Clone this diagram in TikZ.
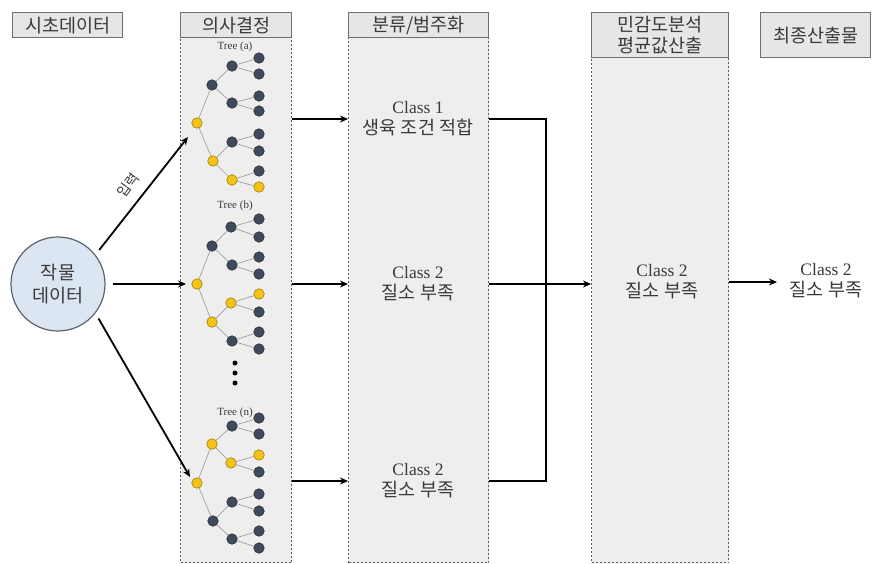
\documentclass[tikz,border=0pt]{standalone}
\usepackage{fontspec}
\setmainfont{Liberation Serif}
\newfontfamily\kr{Noto Sans CJK KR}
\usetikzlibrary{arrows.meta,calc}
\definecolor{hdrfill}{HTML}{E6E6E6}
\definecolor{hdrline}{HTML}{6E6E6E}
\definecolor{colfill}{HTML}{EEEEEE}
\definecolor{colline}{HTML}{5A5A5A}
\definecolor{txt}{HTML}{3A3A3A}
\definecolor{darkn}{HTML}{3F4A5A}
\definecolor{darknb}{HTML}{29313C}
\definecolor{yeln}{HTML}{F2C318}
\definecolor{yelnb}{HTML}{A07F00}
\definecolor{cropfill}{HTML}{DCE6F2}
\definecolor{cropline}{HTML}{5C6470}
\newcommand\tn[4]{\node[#4] (#1) at (#2,#3) {};}
\newcommand\krc{\kr\fontsize{18.5}{21}\selectfont}
\begin{document}
\begin{tikzpicture}[x=1pt,y=-1pt,
  hdr/.style={draw=hdrline, fill=hdrfill, line width=1.4pt, inner sep=0pt, anchor=north west,
    font=\kr\fontsize{18.5}{21}\selectfont, text=txt, align=center},
  colbox/.style={draw=colline, fill=colfill, line width=1pt, dash pattern=on 2pt off 2pt,
    inner sep=0pt, anchor=north west},
  cls/.style={align=center, text=txt, font=\fontsize{17.5}{21}\selectfont},
  tlab/.style={text=txt, font=\fontsize{11}{13}\selectfont},
  dn/.style={circle, minimum size=10.5pt, inner sep=0pt, fill=darkn, draw=darknb, line width=0.6pt},
  yn/.style={circle, minimum size=10.5pt, inner sep=0pt, fill=yeln, draw=yelnb, line width=0.6pt},
  tedge/.style={draw=gray!75, line width=0.7pt},
  arr/.style={draw=black, line width=1.8pt, -{Stealth[length=8pt,width=7pt]}},
  ln/.style={draw=black, line width=1.8pt, line join=miter}
]
\useasboundingbox (0,0) rectangle (888,563);
\fill[white] (0,0) rectangle (888,563);

% columns
\node[colbox, minimum width=111pt, minimum height=525pt] (colA) at (180,37) {};
\node[colbox, minimum width=140pt, minimum height=525pt] (colB) at (348,37) {};
\node[colbox, minimum width=137pt, minimum height=505pt] (colC) at (591,57) {};

% headers
\node[hdr, minimum width=110pt, minimum height=25pt] (h0) at (12,12) {시초데이터};
\node[hdr, minimum width=111pt, minimum height=25pt] (hA) at (180,12) {의사결정};
\node[hdr, minimum width=140pt, minimum height=25pt] (hB) at (348,12) {분류/범주화};
\node[hdr, minimum width=137pt, minimum height=45pt] (hC) at (591,12) {민감도분석\\평균값산출};
\node[hdr, minimum width=110pt, minimum height=45pt] (hD) at (760,12) {최종산출물};

% crop data
\node[circle, minimum size=94pt, inner sep=0pt, draw=cropline, fill=cropfill, line width=1.2pt,
  align=center, text=txt, font=\kr\fontsize{18.5}{23}\selectfont] (crop) at (58,284) {작물\\데이터};

% tree labels
\node[tlab] (ta) at (235,47) {Tree (a)};
\node[tlab] (tb) at (235,206) {Tree (b)};
\node[tlab] (tnl) at (235,413) {Tree (n)};
\node[circle, fill=black, inner sep=0pt, minimum size=5pt] (d1) at (235,363) {};
\node[circle, fill=black, inner sep=0pt, minimum size=5pt] (d2) at (235,373) {};
\node[circle, fill=black, inner sep=0pt, minimum size=5pt] (d3) at (235,383) {};

% Tree (a)
\tn{a-r}{197}{123}{yn}
\tn{a-1}{212}{85}{dn}
\tn{a-2}{213}{161}{yn}
\tn{a-11}{232}{66}{dn}
\tn{a-12}{232}{103}{dn}
\tn{a-21}{232}{142}{dn}
\tn{a-22}{232}{180}{yn}
\tn{a-111}{259}{58}{dn}
\tn{a-112}{259}{74}{dn}
\tn{a-121}{259}{96}{dn}
\tn{a-122}{259}{111}{dn}
\tn{a-211}{259}{134}{dn}
\tn{a-212}{259}{151}{dn}
\tn{a-221}{259}{171}{dn}
\tn{a-222}{259}{187}{yn}
% Tree (b)
\tn{b-r}{197}{284}{yn}
\tn{b-1}{212}{246}{dn}
\tn{b-2}{212}{322}{yn}
\tn{b-11}{231}{227}{dn}
\tn{b-12}{232}{265}{dn}
\tn{b-21}{231}{303}{yn}
\tn{b-22}{232}{341}{dn}
\tn{b-111}{259}{219}{dn}
\tn{b-112}{259}{237}{dn}
\tn{b-121}{259}{257}{dn}
\tn{b-122}{259}{274}{dn}
\tn{b-211}{259}{294}{yn}
\tn{b-212}{259}{312}{dn}
\tn{b-221}{259}{332}{dn}
\tn{b-222}{259}{349}{dn}
% Tree (n)
\tn{n-r}{197}{483}{yn}
\tn{n-1}{212}{444}{yn}
\tn{n-2}{213}{521}{dn}
\tn{n-11}{232}{426}{dn}
\tn{n-12}{231}{463}{yn}
\tn{n-21}{232}{502}{dn}
\tn{n-22}{232}{539}{dn}
\tn{n-111}{259}{418}{dn}
\tn{n-112}{259}{434}{dn}
\tn{n-121}{259}{455}{yn}
\tn{n-122}{259}{472}{dn}
\tn{n-211}{259}{494}{dn}
\tn{n-212}{259}{511}{dn}
\tn{n-221}{259}{531}{dn}
\tn{n-222}{259}{548}{dn}

\foreach \p in {a,b,n}{
  \foreach \u/\v in {r/1,r/2,1/11,1/12,2/21,2/22,11/111,11/112,12/121,12/122,21/211,21/212,22/221,22/222}
    \draw[tedge] (\p-\u) -- (\p-\v);
}

% class texts
\node[cls] (c1) at (418,119) {Class 1\\{\krc 생육 조건 적합}};
\node[cls] (c2) at (418,284) {Class 2\\{\krc 질소 부족}};
\node[cls] (c3) at (418,481) {Class 2\\{\krc 질소 부족}};
\node[cls] (c4) at (662,282) {Class 2\\{\krc 질소 부족}};
\node[cls] (fin) at (826,281) {Class 2\\{\krc 질소 부족}};

% input arrows
\coordinate (ia) at (188,137);
\coordinate (ib) at (186,284);
\coordinate (in) at (190,477);
\draw[arr, shorten <=6pt] (crop.38) -- (ia);
\draw[arr, shorten <=7pt] (crop.east) -- (ib);
\draw[arr, shorten <=6pt] (crop.-38) -- (in);
\node[font=\kr\fontsize{14}{16}\selectfont, text=txt, rotate=53, inner sep=0pt] (lbl) at (128,185) {입력};

% tree -> class arrows
\draw[arr] (colA.east |- c1) -- (colB.west |- c1);
\draw[arr] (colA.east |- c2) -- (colB.west |- c2);
\draw[arr] (colA.east |- c3) -- (colB.west |- c3);

% merge lines
\coordinate (j1) at (546,119);
\coordinate (j3) at (546,481);
\draw[ln] (colB.east |- c1) -- (j1) -- (j3) -- (colB.east |- c3);
\draw[arr] (colB.east |- c2) -- (colC.west |- c2);
\coordinate (fa) at (777,282);
\draw[arr] (colC.east |- c4) -- (fa);
\end{tikzpicture}
\end{document}
